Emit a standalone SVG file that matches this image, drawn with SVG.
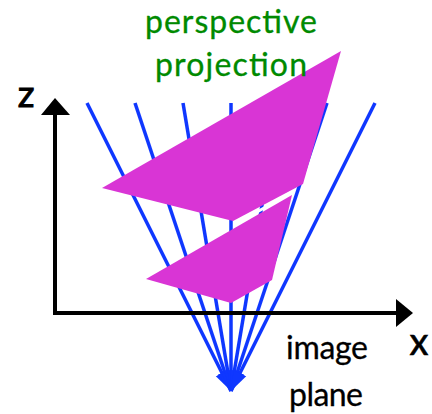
<svg xmlns="http://www.w3.org/2000/svg" width="432" height="414" viewBox="0 0 432 414">
<style>
.t{font-family:"Lato","Open Sans","Liberation Sans",sans-serif;font-size:32px;text-anchor:middle;stroke-width:.3}
.g{fill:#008a00;stroke:#008a00}
.k{fill:#000;stroke:#000}
.ray{stroke:#0f37ff;stroke-width:3.5;fill:none;marker-end:url(#ah)}
.ax{stroke:#000;stroke-width:4;fill:none}
.tri{fill:#d935d5}
</style>
<defs>
<marker id="ah" markerUnits="userSpaceOnUse" markerWidth="24" markerHeight="24" refX="20" refY="12" orient="auto">
<path d="M0 5L20 12L0 19Z" fill="#0f37ff"/>
</marker>
</defs>
<rect width="432" height="414" fill="#fff"/>
<g id="connectors">
<path class="ray" d="M87 103L231 391"/>
<path class="ray" d="M135 103L231 391"/>
<path class="ray" d="M183 103L231 391"/>
<path class="ray" d="M231 103L231 391"/>
<path class="ray" d="M279 103L231 391"/>
<path class="ray" d="M327 103L231 391"/>
<path class="ray" d="M375 103L231 391"/>
</g>
<g id="axes">
<path class="ax" d="M55 313V112M53 313H400"/>
<path d="M55 98L70 115H41Z"/>
<path d="M413 313L396 299V327Z"/>
</g>
<g id="far-plane"><path class="tri" d="M341 51L102 188L233 221L303 184Z"/></g>
<g id="near-plane"><path d="M236 224L292 192" stroke="#fff" stroke-width="3" fill="none"/><path class="tri" d="M292 195L146 279L231 303L272 280Z"/></g>
<g id="label-title">
<text class="t g" x="231" y="33" textLength="172">perspective</text>
<text class="t g" x="231" y="76" textLength="152">projection</text>
</g>
<g id="label-z"><text class="t k" x="26" y="107" style="font-size:37px;stroke-width:1">z</text></g>
<g id="label-x"><text class="t k" x="419" y="355" style="font-size:38px;stroke-width:.6">x</text></g>
<g id="label-plane">
<text class="t k" x="327" y="359" textLength="82">image</text>
<text class="t k" x="326" y="406" textLength="74">plane</text>
</g>
</svg>
